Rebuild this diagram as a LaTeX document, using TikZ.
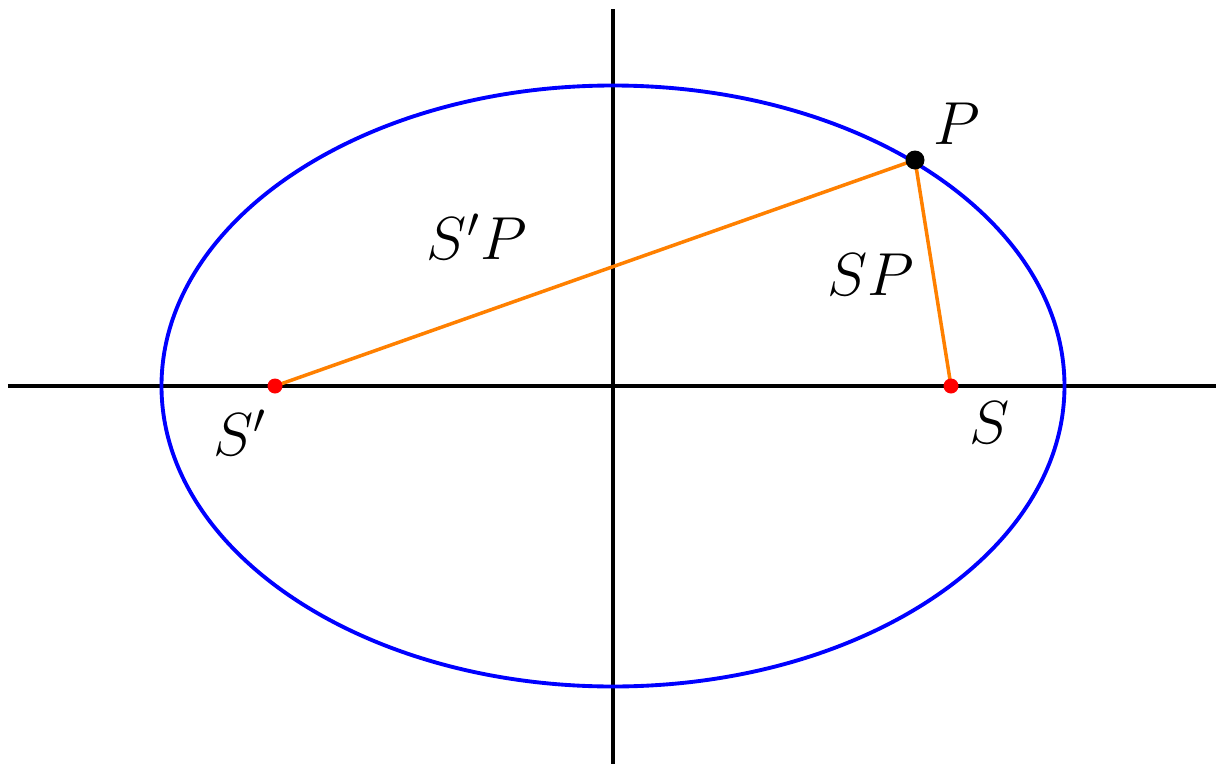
\documentclass[tikz,border=0pt]{standalone}
\definecolor{segorange}{RGB}{255,128,0}
\begin{document}
\begin{tikzpicture}[x=0.1mm,y=-0.1mm,
  axis/.style={line width=1.2pt,black},
  curve/.style={line width=1.1pt,blue},
  seg/.style={line width=1pt,segorange},
  lbl/.style={inner sep=0pt,font=\fontsize{17.6}{20}\selectfont},
  focus/.style={circle,fill=red,inner sep=0pt,minimum size=1.5mm},
  pt/.style={circle,fill=black,inner sep=0pt,minimum size=1.9mm}]
\useasboundingbox (0,0) rectangle (1216,764);
\coordinate (O) at (613,386);
\coordinate (xl) at (8,386);
\coordinate (xr) at (1216,386);
\coordinate (yt) at (613,9);
\coordinate (yb) at (613,764);
\draw[axis] (xl) -- (xr);
\draw[axis] (yt) -- (yb);
\draw[curve] (O) ellipse [x radius=451.5, y radius=300.5];
\coordinate (Sp) at (275,386);
\coordinate (S) at (951,386);
\coordinate (P) at (915,160);
\draw[seg] (Sp) -- (P) -- (S);
\node[focus] (dSp) at (Sp) {};
\node[focus] (dS) at (S) {};
\node[pt] (dP) at (P) {};
\node[lbl] (lP) at (957,124) {$P$};
\node[lbl] (lSp) at (240,433) {$S'$};
\node[lbl] (lS) at (990,423) {$S$};
\node[lbl] (lSpP) at (477,237) {$S'P$};
\node[lbl] (lSP) at (871,275) {$SP$};
\end{tikzpicture}
\end{document}
